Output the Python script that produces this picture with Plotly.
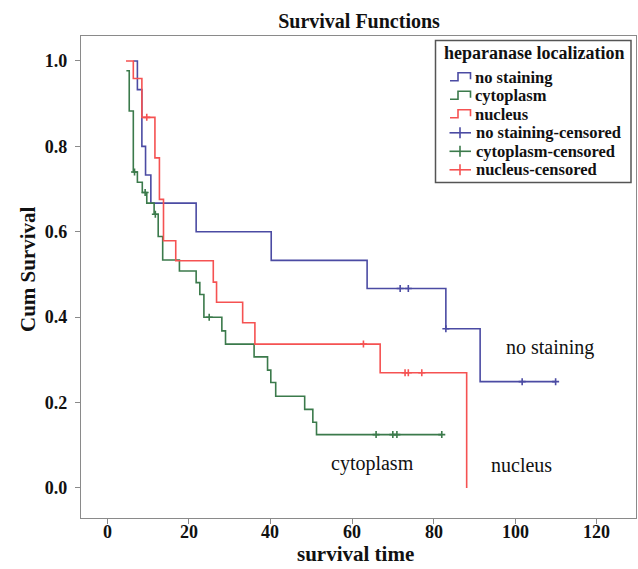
import plotly.graph_objects as go

# ---- data ----
blue_t = [6.4, 7.4, 8.5, 9.4, 10.7, 21.8, 40.2, 63.7, 83.0, 91.4, 109.9]
blue_s = [1.0, 0.933, 0.800, 0.733, 0.667, 0.600, 0.533, 0.467, 0.373, 0.249, 0.249]
blue_cens_t = [71.8, 73.8, 83.0, 101.7, 109.9]
blue_cens_s = [0.467, 0.467, 0.373, 0.249, 0.249]

green_t = [4.7, 5.4, 6.4, 7.4, 8.6, 9.7, 11.5, 12.5, 13.6, 17.7, 21.8, 22.7, 23.7,
           28.1, 29.0, 36.0, 39.3, 40.1, 41.3, 48.4, 50.4, 51.3, 82.0]
green_s = [0.977, 0.883, 0.740, 0.716, 0.692, 0.667, 0.641, 0.589, 0.534, 0.508, 0.481,
           0.453, 0.400, 0.368, 0.337, 0.307, 0.276, 0.247, 0.215, 0.184, 0.154, 0.125, 0.125]
green_cens_t = [6.7, 9.3, 11.8, 25.0, 65.9, 70.0, 71.0, 82.0]
green_cens_s = [0.740, 0.692, 0.641, 0.400, 0.125, 0.125, 0.125, 0.125]

red_t = [4.6, 6.4, 8.5, 11.7, 12.8, 13.8, 16.8, 26.0, 26.8, 33.2, 36.2, 66.9, 88.1, 88.1]
red_s = [1.0, 0.959, 0.868, 0.773, 0.676, 0.579, 0.532, 0.482, 0.435, 0.387, 0.337, 0.270, 0.270, 0.0]
red_cens_t = [9.7, 62.8, 73.0, 73.8, 77.1]
red_cens_s = [0.868, 0.337, 0.270, 0.270, 0.270]

x_ticks = [0, 20, 40, 60, 80, 100, 120]
y_ticks = [0.0, 0.2, 0.4, 0.6, 0.8, 1.0]

series_names = ["no staining", "cytoplasm", "nucleus"]
legend_title = "heparanase localization"

BLUE = "#4b4ba3"
GREEN = "#3b7a4b"
RED = "#f55252"
COLORS = [BLUE, GREEN, RED]
FONT = "Liberation Serif"

W, H = 638, 569
ML, MR, MT, MB = 81, 2, 36, 51
PW, PH = W - ML - MR, H - MT - MB


def px(xp):  # pixel x -> paper x
    return (xp - ML) / PW


def py(yp):  # pixel y -> paper y
    return (H - MB - yp) / PH


fig = go.Figure()
for name, t, s, c in zip(series_names, [blue_t, green_t, red_t], [blue_s, green_s, red_s], COLORS):
    fig.add_trace(go.Scatter(x=t, y=s, mode="lines", name=name, showlegend=False,
                             line=dict(color=c, width=1.6, shape="hv")))
for name, t, s, c in zip(series_names, [blue_cens_t, green_cens_t, red_cens_t],
                         [blue_cens_s, green_cens_s, red_cens_s], COLORS):
    fig.add_trace(go.Scatter(x=t, y=s, mode="markers", name=name + "-censored", showlegend=False,
                             marker=dict(symbol="cross-thin", size=5,
                                         line=dict(color=c, width=1.6))))

# curve labels inside the plot
for txt, x, y in [("no staining", 108.5, 0.330), ("cytoplasm", 65.0, 0.057), ("nucleus", 101.5, 0.054)]:
    fig.add_annotation(x=x, y=y, text=txt, showarrow=False,
                       font=dict(family=FONT, size=20, color="#111"))

# ---- legend box (SPSS style, step icons) ----
shapes = [dict(type="rect", xref="paper", yref="paper", layer="above",
               x0=px(435.5), x1=px(631), y0=py(40.5), y1=py(182.5),
               line=dict(color="#555", width=1.5), fillcolor="white")]
annots = [dict(xref="paper", yref="paper", x=px(534), y=py(53.5), text="<b>" + legend_title + "</b>",
               showarrow=False, xanchor="center", yanchor="middle",
               font=dict(family=FONT, size=18, color="#111"))]
row_y = [77.3, 95.8, 114.3, 132.8, 151.3, 169.8]
labels = series_names + [n + "-censored" for n in series_names]
for i, (lab, yc) in enumerate(zip(labels, row_y)):
    c = COLORS[i % 3]
    if i < 3:
        path = (f"M {px(450)},{py(yc + 3.5)} L {px(458)},{py(yc + 3.5)} L {px(458)},{py(yc - 4.5)} "
                f"L {px(470.5)},{py(yc - 4.5)} L {px(470.5)},{py(yc + 2)}")
        shapes.append(dict(type="path", xref="paper", yref="paper", layer="above", path=path,
                           line=dict(color=c, width=1.6)))
        tx = 472.5
    else:
        shapes.append(dict(type="line", xref="paper", yref="paper", layer="above",
                           x0=px(449.5), x1=px(471), y0=py(yc), y1=py(yc), line=dict(color=c, width=1.6)))
        shapes.append(dict(type="line", xref="paper", yref="paper", layer="above",
                           x0=px(460), x1=px(460), y0=py(yc - 5.5), y1=py(yc + 5.5), line=dict(color=c, width=1.6)))
        tx = 473.5
    annots.append(dict(xref="paper", yref="paper", x=px(tx), y=py(yc), text="<b>" + lab + "</b>",
                       showarrow=False, xanchor="left", yanchor="middle",
                       font=dict(family=FONT, size=16.5, color="#111")))

# x tick labels (placed on the x scale, just under the frame)
for v in x_ticks:
    annots.append(dict(xref="x", yref="paper", x=v, y=py(532), text=f"<b>{v}</b>",
                       showarrow=False, xanchor="center", yanchor="middle",
                       font=dict(family=FONT, size=18, color="#111")))

# axis titles
annots.append(dict(xref="paper", yref="paper", x=px(355), y=py(554), text="<b>survival time</b>",
                   showarrow=False, xanchor="center", yanchor="middle",
                   font=dict(family=FONT, size=21, color="#111")))
annots.append(dict(xref="paper", yref="paper", x=px(28), y=py(269), text="<b>Cum Survival</b>",
                   showarrow=False, xanchor="center", yanchor="middle", textangle=-90,
                   font=dict(family=FONT, size=21, color="#111")))
for a in annots:
    fig.add_annotation(**a)

axis_common = dict(showgrid=False, zeroline=False, showline=True, mirror=True,
                   linecolor="#8a8a8a", linewidth=1.2, ticks="outside", ticklen=5,
                   tickcolor="#8a8a8a", tickwidth=1.2, automargin=False,
                   tickfont=dict(family=FONT, size=18, color="#111", weight="bold"))

fig.update_layout(
    width=W, height=H,
    margin=dict(l=ML, r=MR, t=MT, b=MB),
    paper_bgcolor="white", plot_bgcolor="white",
    shapes=shapes,
    title=dict(text="<b>Survival Functions</b>", x=359 / W, xanchor="center",
               y=1 - 20.7 / H, yanchor="middle", automargin=False,
               font=dict(family=FONT, size=20, color="#111")),
    xaxis=dict(range=[-6.42, 129.6], tickvals=x_ticks, showticklabels=False, **axis_common),
    yaxis=dict(range=[-0.0703, 1.0585], tickvals=y_ticks, ticktext=[f"{v:.1f}" for v in y_ticks],
               ticklabelstandoff=4, **axis_common),
    showlegend=False,
)

fig.write_html("out.html", config={"displayModeBar": False},
               post_script="document.body.style.margin='0px';")
